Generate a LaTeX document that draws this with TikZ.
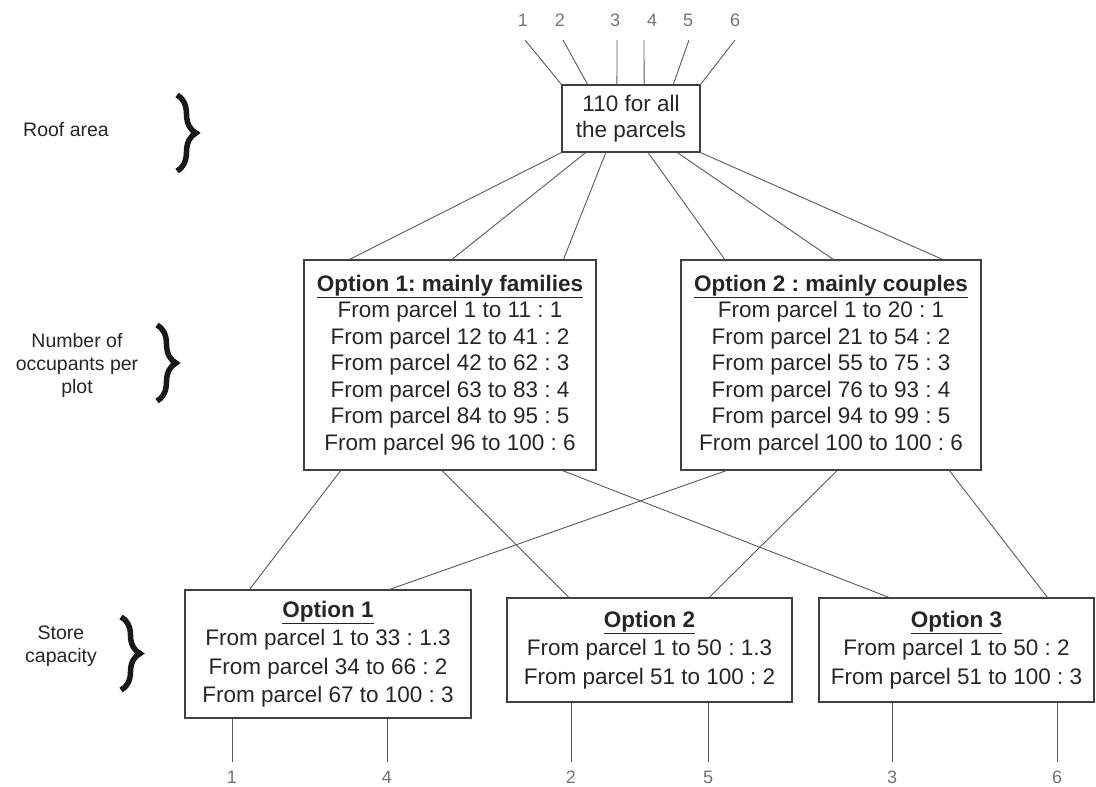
\documentclass[tikz,border=0pt]{standalone}
\usepackage{fontspec}
\setmainfont{Liberation Sans}
\frenchspacing
\usetikzlibrary{calc,decorations.pathreplacing}
\begin{document}
\begin{tikzpicture}[x=1pt,y=-1pt,
  box/.style={draw=black!75, line width=1.3pt, inner sep=0pt, align=center, text=black!85},
  midfont/.style={font=\frenchspacing\fontsize{22.5}{26.5}\selectfont},
  botfont/.style={font=\frenchspacing\fontsize{22.5}{28.5}\selectfont},
  conn/.style={draw=black!65, line width=0.9pt},
  numlbl/.style={text=black!55, font=\fontsize{18}{20}\selectfont, inner sep=1pt},
  sidelbl/.style={text=black!85, align=center, font=\fontsize{19.5}{23}\selectfont},
  bracestyle/.style={decorate, decoration={brace, amplitude=19pt, aspect=0.5}, line width=5.5pt, draw=black!90}
]
\useasboundingbox (0,0) rectangle (1096,787);

% side labels and braces
\node[sidelbl] (lroof) at (66,130) {Roof area};
\node[sidelbl] (locc) at (77,365) {Number of\\occupants per\\plot};
\node[sidelbl] (lstore) at (61,646) {Store\\capacity};
\draw[bracestyle] (177,95) -- (177,171);
\draw[bracestyle] (157,325) -- (157,401);
\draw[bracestyle] (121,617) -- (121,690);

% boxes
\node[box, midfont, minimum width=138pt, minimum height=67pt] (top) at (631,118.5) {110 for all\\the parcels};
\node[box, midfont, minimum width=292pt, minimum height=210pt] (mid1) at (450,365)
  {\underline{\textbf{Option 1: mainly families}}\\From parcel 1 to 11 : 1\\From parcel 12 to 41 : 2\\From parcel 42 to 62 : 3\\From parcel 63 to 83 : 4\\From parcel 84 to 95 : 5\\From parcel 96 to 100 : 6};
\node[box, midfont, minimum width=300pt, minimum height=210pt] (mid2) at (831,365)
  {\underline{\textbf{Option 2 : mainly couples}}\\From parcel 1 to 20 : 1\\From parcel 21 to 54 : 2\\From parcel 55 to 75 : 3\\From parcel 76 to 93 : 4\\From parcel 94 to 99 : 5\\From parcel 100 to 100 : 6};
\node[box, botfont, minimum width=286pt, minimum height=128pt] (bot1) at (328,654)
  {\underline{\textbf{Option 1}}\\From parcel 1 to 33 : 1.3\\From parcel 34 to 66 : 2\\From parcel 67 to 100 : 3};
\node[box, botfont, minimum width=285pt, minimum height=104pt] (bot2) at (649.5,650)
  {\underline{\textbf{Option 2}}\\From parcel 1 to 50 : 1.3\\From parcel 51 to 100 : 2};
\node[box, botfont, minimum width=275pt, minimum height=104pt] (bot3) at (956.5,650)
  {\underline{\textbf{Option 3}}\\From parcel 1 to 50 : 2\\From parcel 51 to 100 : 3};

% top numbers and lines
\coordinate (u1) at (525,40);
\coordinate (u2) at (563,40);
\coordinate (u3) at (617,40);
\coordinate (u4) at (644,40);
\coordinate (u5) at (689,40);
\coordinate (u6) at (735,40);
\node[numlbl] (n1) at (523,20) {1};
\node[numlbl] (n2) at (560,20) {2};
\node[numlbl] (n3) at (615,20) {3};
\node[numlbl] (n4) at (652,20) {4};
\node[numlbl] (n5) at (688,20) {5};
\node[numlbl] (n6) at (735,20) {6};
\draw[conn] (u1) -- (top.north west);
\draw[conn] (u2) -- ($(top.north west)!0.188!(top.north east)$);
\draw[conn] (u3) -- ($(top.north west)!0.399!(top.north east)$);
\draw[conn] (u4) -- ($(top.north west)!0.594!(top.north east)$);
\draw[conn] (u5) -- ($(top.north west)!0.804!(top.north east)$);
\draw[conn] (u6) -- (top.north east);

% top to middle
\draw[conn] (top.south west) -- ($(mid1.north west)!0.158!(mid1.north east)$);
\draw[conn] ($(top.south west)!0.174!(top.south east)$) -- ($(mid1.north west)!0.507!(mid1.north east)$);
\draw[conn] ($(top.south west)!0.319!(top.south east)$) -- ($(mid1.north west)!0.887!(mid1.north east)$);
\draw[conn] ($(top.south west)!0.623!(top.south east)$) -- ($(mid2.north west)!0.147!(mid2.north east)$);
\draw[conn] ($(top.south west)!0.833!(top.south east)$) -- ($(mid2.north west)!0.507!(mid2.north east)$);
\draw[conn] (top.south east) -- ($(mid2.north west)!0.87!(mid2.north east)$);

% middle to bottom
\draw[conn] ($(mid1.south west)!0.127!(mid1.south east)$) -- ($(bot1.north west)!0.227!(bot1.north east)$);
\draw[conn] ($(mid1.south west)!0.473!(mid1.south east)$) -- ($(bot2.north west)!0.218!(bot2.north east)$);
\draw[conn] ($(mid1.south west)!0.884!(mid1.south east)$) -- ($(bot3.north west)!0.255!(bot3.north east)$);
\draw[conn] ($(mid2.south west)!0.152!(mid2.south east)$) -- ($(bot1.north west)!0.715!(bot1.north east)$);
\draw[conn] ($(mid2.south west)!0.52!(mid2.south east)$) -- ($(bot2.north west)!0.709!(bot2.north east)$);
\draw[conn] ($(mid2.south west)!0.893!(mid2.south east)$) -- ($(bot3.north west)!0.829!(bot3.north east)$);

% bottom lines and numbers
\node[numlbl] (b1) at (232,777) {1};
\node[numlbl] (b4) at (387,777) {4};
\node[numlbl] (b2) at (571,777) {2};
\node[numlbl] (b5) at (708,777) {5};
\node[numlbl] (b3) at (892,777) {3};
\node[numlbl] (b6) at (1057,777) {6};
\coordinate (d1) at (232,762);
\coordinate (d4) at (387,762);
\coordinate (d2) at (571,762);
\coordinate (d5) at (708,762);
\coordinate (d3) at (892,762);
\coordinate (d6) at (1057,762);
\draw[conn] (bot1.south west -| d1) -- (d1);
\draw[conn] (bot1.south west -| d4) -- (d4);
\draw[conn] (bot2.south west -| d2) -- (d2);
\draw[conn] (bot2.south west -| d5) -- (d5);
\draw[conn] (bot3.south west -| d3) -- (d3);
\draw[conn] (bot3.south west -| d6) -- (d6);
\end{tikzpicture}
\end{document}
